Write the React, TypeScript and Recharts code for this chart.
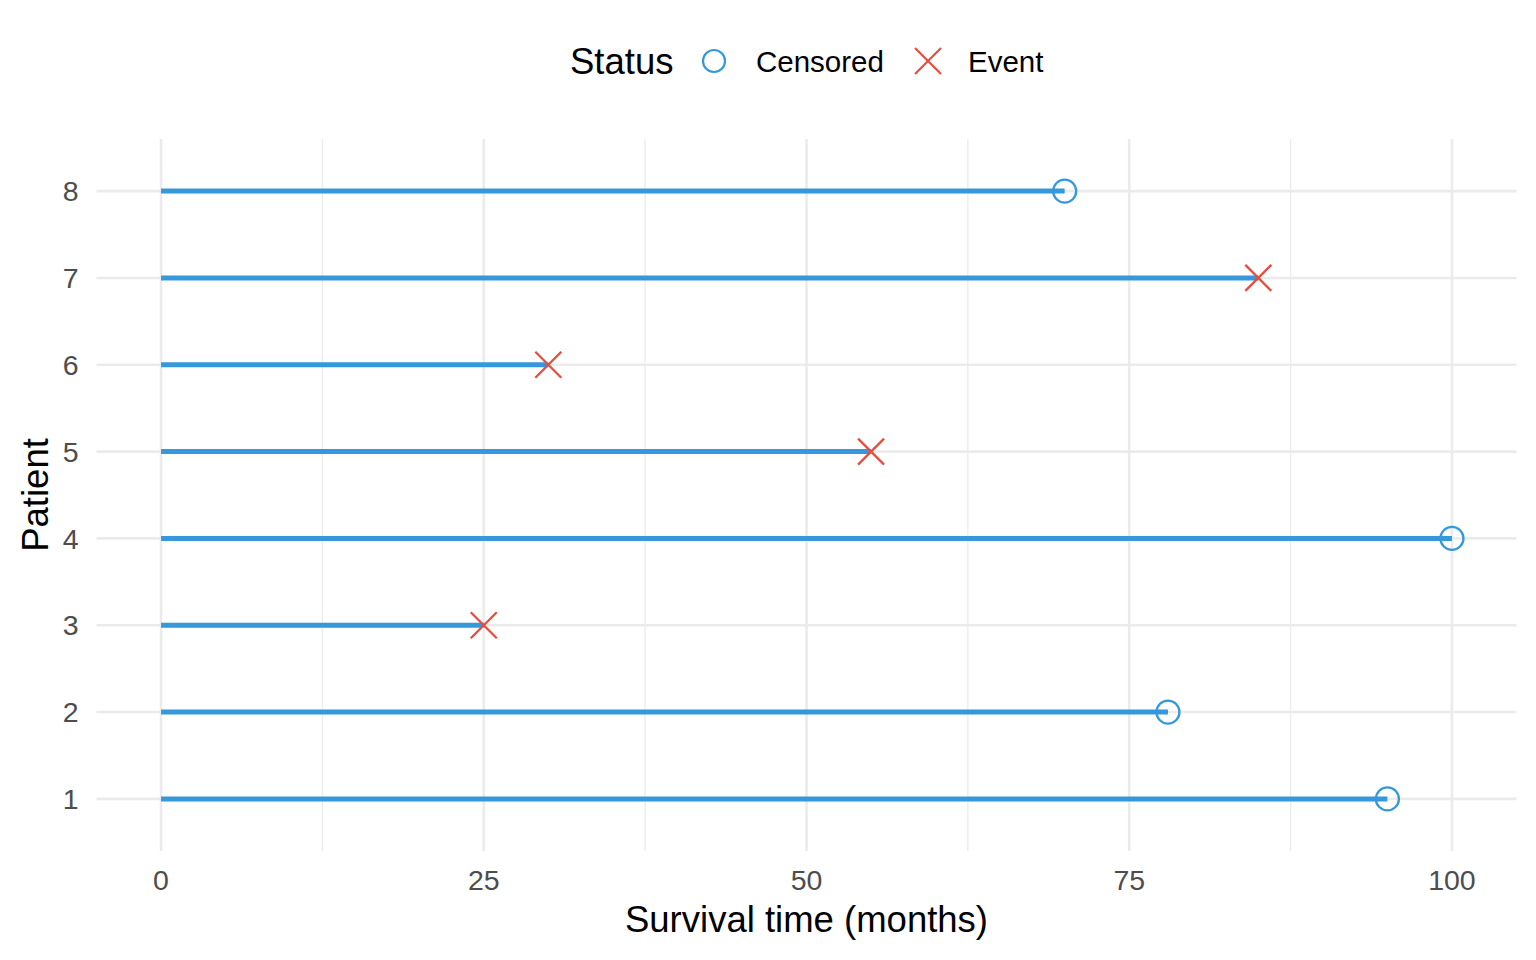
import {
  ComposedChart,
  Label,
  ReferenceLine,
  Scatter,
  XAxis,
  YAxis,
} from "recharts";

const patients = [1, 2, 3, 4, 5, 6, 7, 8];
const survivalMonths = [95, 78, 25, 100, 55, 30, 85, 70];
const statuses = ["Censored", "Censored", "Event", "Censored", "Event", "Event", "Event", "Censored"];

const xTicks = [0, 25, 50, 75, 100];
const xMinorTicks = [12.5, 37.5, 62.5, 87.5];

const blue = "#3498db";
const red = "#e74c3c";
const grid = "#ebebeb";
const font = "'Liberation Sans', Arial, sans-serif";

const rows = patients.map((p, i) => ({ patient: p, time: survivalMonths[i], status: statuses[i] }));
const censored = rows.filter((r) => r.status === "Censored");
const events = rows.filter((r) => r.status === "Event");

function CircleMark(props: any) {
  const { cx, cy } = props;
  return <circle cx={cx} cy={cy} r={11.5} fill="none" stroke={blue} strokeWidth={2.3} />;
}

function CrossMark(props: any) {
  const { cx, cy } = props;
  const s = 13;
  return (
    <g stroke={red} strokeWidth={2.3}>
      <line x1={cx - s} y1={cy - s} x2={cx + s} y2={cy + s} />
      <line x1={cx - s} y1={cy + s} x2={cx + s} y2={cy - s} />
    </g>
  );
}

function LegendOverlay() {
  return (
    <svg width={1536} height={110} style={{ position: "absolute", left: 0, top: 0, fontFamily: font }}>
      <text x={570} y={74} fontSize={36.5} fill="#000">Status</text>
      <circle cx={714} cy={61} r={11} fill="none" stroke={blue} strokeWidth={2.2} />
      <text x={756} y={72} fontSize={29.5} fill="#000">Censored</text>
      <g stroke={red} strokeWidth={2.2}>
        <line x1={915} y1={48} x2={941} y2={74} />
        <line x1={915} y1={74} x2={941} y2={48} />
      </g>
      <text x={968} y={72} fontSize={29.5} fill="#000">Event</text>
    </svg>
  );
}

export default function App() {
  return (
    <div style={{ position: "absolute", left: 0, top: 0, width: 1536, height: 960, background: "#fff", fontFamily: font }}>
      <ComposedChart
        width={1536}
        height={960}
        margin={{ top: 139, right: 19.5, bottom: 0, left: 0 }}
      >
        {xMinorTicks.map((t) => (
          <ReferenceLine key={`minor-${t}`} x={t} stroke={grid} strokeWidth={1.3} />
        ))}
        {xTicks.map((t) => (
          <ReferenceLine key={`major-${t}`} x={t} stroke={grid} strokeWidth={2.6} />
        ))}
        {patients.map((p) => (
          <ReferenceLine key={`row-${p}`} y={p} stroke={grid} strokeWidth={2.6} />
        ))}
        <XAxis
          type="number"
          dataKey="time"
          domain={[-5, 105]}
          ticks={xTicks}
          allowDataOverflow
          axisLine={false}
          tickLine={false}
          tickSize={0}
          tickMargin={19}
          height={109}
          tick={{ fill: "#4d4d4d", fontSize: 28.5, fontFamily: font }}
        >
          <Label
            content={({ viewBox }: any) => (
              <text
                x={viewBox.x + viewBox.width / 2}
                y={viewBox.y + 81}
                textAnchor="middle"
                fontSize={36.5}
                fontFamily={font}
                fill="#000"
              >
                Survival time (months)
              </text>
            )}
          />
        </XAxis>
        <YAxis
          type="number"
          dataKey="patient"
          domain={[0.4, 8.6]}
          ticks={patients}
          allowDataOverflow
          axisLine={false}
          tickLine={false}
          tickSize={0}
          tickMargin={18}
          width={96.5}
          tick={{ fill: "#4d4d4d", fontSize: 28.5, fontFamily: font }}
        >
          <Label
            content={({ viewBox }: any) => {
              const cy = viewBox.y + viewBox.height / 2;
              return (
                <text
                  x={35}
                  y={cy}
                  transform={`rotate(-90, 35, ${cy})`}
                  textAnchor="middle"
                  dominantBaseline="central"
                  fontSize={36.5}
                  fontFamily={font}
                  fill="#000"
                >
                  Patient
                </text>
              );
            }}
          />
        </YAxis>
        {rows.map((r) => (
          <ReferenceLine
            key={r.patient}
            segment={[
              { x: 0, y: r.patient },
              { x: r.time, y: r.patient },
            ]}
            stroke={blue}
            strokeWidth={5}
          />
        ))}
        <Scatter name="Censored" data={censored} dataKey="time" shape={CircleMark} isAnimationActive={false} />
        <Scatter name="Event" data={events} dataKey="time" shape={CrossMark} isAnimationActive={false} />
      </ComposedChart>
      <LegendOverlay />
    </div>
  );
}
